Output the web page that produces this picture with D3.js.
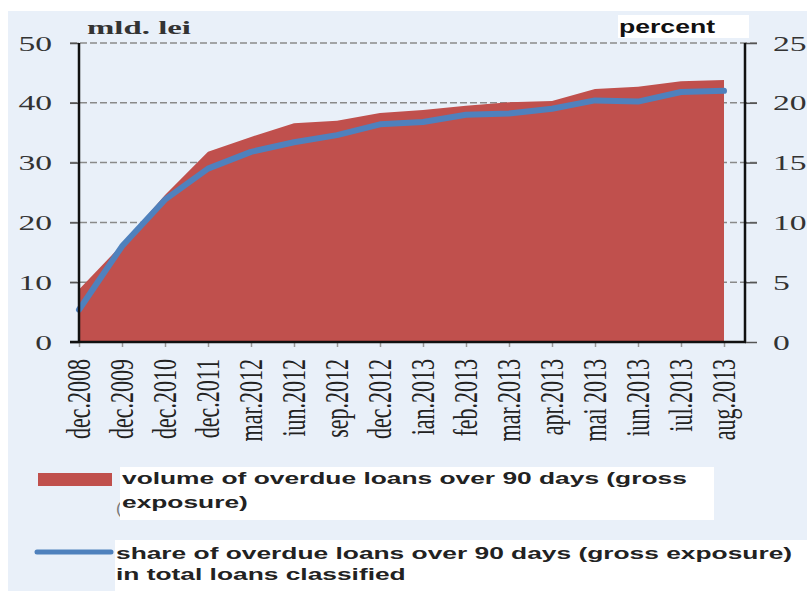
<!DOCTYPE html>
<html><head><meta charset="utf-8">
<script src="https://cdn.jsdelivr.net/npm/d3@7"></script>
<style>body{margin:0;background:#fff}svg{display:block}</style>
</head><body>
<svg id="c" width="807" height="591"></svg>
<script>
const categories=["dec.2008","dec.2009","dec.2010","dec.2011","mar.2012","iun.2012","sep.2012","dec.2012","ian.2013","feb.2013","mar.2013","apr.2013","mai 2013","iun.2013","iul.2013","aug.2013"];
const volume=[8.8,16.3,24.6,31.8,34.3,36.6,37.0,38.3,38.8,39.5,40.1,40.3,42.3,42.7,43.6,43.8];
const share=[2.7,8.0,11.9,14.5,15.9,16.7,17.3,18.2,18.4,19.0,19.1,19.5,20.2,20.1,20.9,21.0];
const leftTicks=[0,10,20,30,40,50];
const rightTicks=[0,5,10,15,20,25];
const leftTitle="mld. lei", rightTitle="percent";
const legendVolume=["volume of overdue loans over 90 days (gross","exposure)"];
const legendShare=["share of overdue loans over 90 days (gross exposure)","in total loans classified"];

const svg=d3.select("#c");
const L=79,R=745,T=43,B=342;
const x=d3.scalePoint().domain(categories).range([79,724]);
const yL=d3.scaleLinear().domain([0,50]).range([B,T]);
const yR=d3.scaleLinear().domain([0,25]).range([B,T]);
const SX=1.6;

svg.append("rect").attr("x",8).attr("y",11).attr("width",807-8).attr("height",591-11).attr("fill","#e9f0f9");

// gridlines
svg.append("g").selectAll("line").data(leftTicks.filter(d=>d>0)).join("line")
  .attr("x1",70).attr("x2",757).attr("y1",d=>yL(d)).attr("y2",d=>yL(d))
  .attr("stroke","#8a8a8a").attr("stroke-width",1.5).attr("stroke-dasharray","7,3");

// area
const data=categories.map((c,i)=>({c,v:volume[i],s:share[i]}));
svg.append("path").datum(data)
  .attr("d",d3.area().x(d=>x(d.c)).y0(B).y1(d=>yL(d.v)))
  .attr("fill","#c0504d");

// line
svg.append("path").datum(data)
  .attr("d",d3.line().x(d=>x(d.c)).y(d=>yR(d.s)))
  .attr("fill","none").attr("stroke","#4f81bd").attr("stroke-width",6)
  .attr("stroke-linejoin","round").attr("stroke-linecap","round");

// left axis
const gl=svg.append("g").attr("transform",`translate(${L},0)`)
  .call(d3.axisLeft(yL).tickValues(leftTicks).tickSize(9).tickFormat(d3.format("d")));
gl.select(".domain").remove();
gl.selectAll(".tick line").attr("stroke","#555").attr("stroke-width",1.5);
gl.selectAll(".tick text").attr("x",0).attr("dy",null)
  .attr("transform",`translate(${52-L},7) scale(${SX},1)`)
  .attr("text-anchor","end").attr("font-family","Liberation Serif").attr("font-size",21).attr("fill","#333");
svg.append("line").attr("x1",L).attr("x2",L).attr("y1",T).attr("y2",B).attr("stroke","#111").attr("stroke-width",2.5);

// right axis
const gr=svg.append("g").attr("transform",`translate(${R},0)`)
  .call(d3.axisRight(yR).tickValues(rightTicks).tickSize(12).tickFormat(d3.format("d")));
gr.select(".domain").remove();
gr.selectAll(".tick line").attr("stroke","#555").attr("stroke-width",1.5);
gr.selectAll(".tick text").attr("x",0).attr("dy",null)
  .attr("transform",`translate(${773-R},7) scale(${SX},1)`)
  .attr("text-anchor","start").attr("font-family","Liberation Serif").attr("font-size",21).attr("fill","#333");
svg.append("line").attr("x1",R).attr("x2",R).attr("y1",T).attr("y2",B).attr("stroke","#111").attr("stroke-width",2.5);

// bottom axis
const gb=svg.append("g").attr("transform",`translate(0,${B})`)
  .call(d3.axisBottom(x).tickSize(5));
gb.select(".domain").remove();
gb.selectAll(".tick line").attr("stroke","#999").attr("stroke-width",1.5);
gb.selectAll(".tick text").attr("x",0).attr("y",0).attr("dy","0.33em")
  .attr("transform",`translate(0,17) scale(1.5,1) rotate(-90)`)
  .attr("text-anchor","end").attr("font-family","Liberation Serif").attr("font-size",22).attr("fill","#222");
svg.append("line").attr("x1",70).attr("x2",R+1).attr("y1",B).attr("y2",B).attr("stroke","#111").attr("stroke-width",2.5);

// titles
svg.append("text").attr("x",87).attr("y",34).text(leftTitle)
  .attr("font-family","Liberation Serif").attr("font-weight","bold").attr("font-size",19).attr("fill","#333")
  .attr("textLength",104).attr("lengthAdjust","spacingAndGlyphs");
svg.append("rect").attr("x",618).attr("y",15).attr("width",131).attr("height",23).attr("fill","#fff");
svg.append("text").attr("x",619).attr("y",33).text(rightTitle)
  .attr("font-family","Liberation Sans").attr("font-weight","bold").attr("font-size",19).attr("fill","#111")
  .attr("textLength",96).attr("lengthAdjust","spacingAndGlyphs");

// legend
svg.append("rect").attr("x",38).attr("y",473).attr("width",74).attr("height",13).attr("fill","#c0504d");
svg.append("text").attr("x",116).attr("y",514).text("(").attr("font-family","Liberation Sans").attr("font-size",17).attr("fill","#777");
svg.append("rect").attr("x",120).attr("y",467).attr("width",594).attr("height",53).attr("fill","#fff");
svg.append("line").attr("x1",37).attr("x2",111).attr("y1",552).attr("y2",552)
  .attr("stroke","#4f81bd").attr("stroke-width",5).attr("stroke-linecap","round");
svg.append("rect").attr("x",115).attr("y",540).attr("width",692).attr("height",51).attr("fill","#fff");

function legText(lines,x0,y0,dy){
  lines.forEach((t,i)=>{
    svg.append("text").attr("transform",`translate(${x0},${y0+i*dy}) scale(1.55,1)`).text(t)
      .attr("font-family","Liberation Sans").attr("font-weight","bold").attr("font-size",17).attr("fill","#222");
  });
}
legText(legendVolume,122,484,24);
legText(legendShare,116,559,21);
</script>
</body></html>
